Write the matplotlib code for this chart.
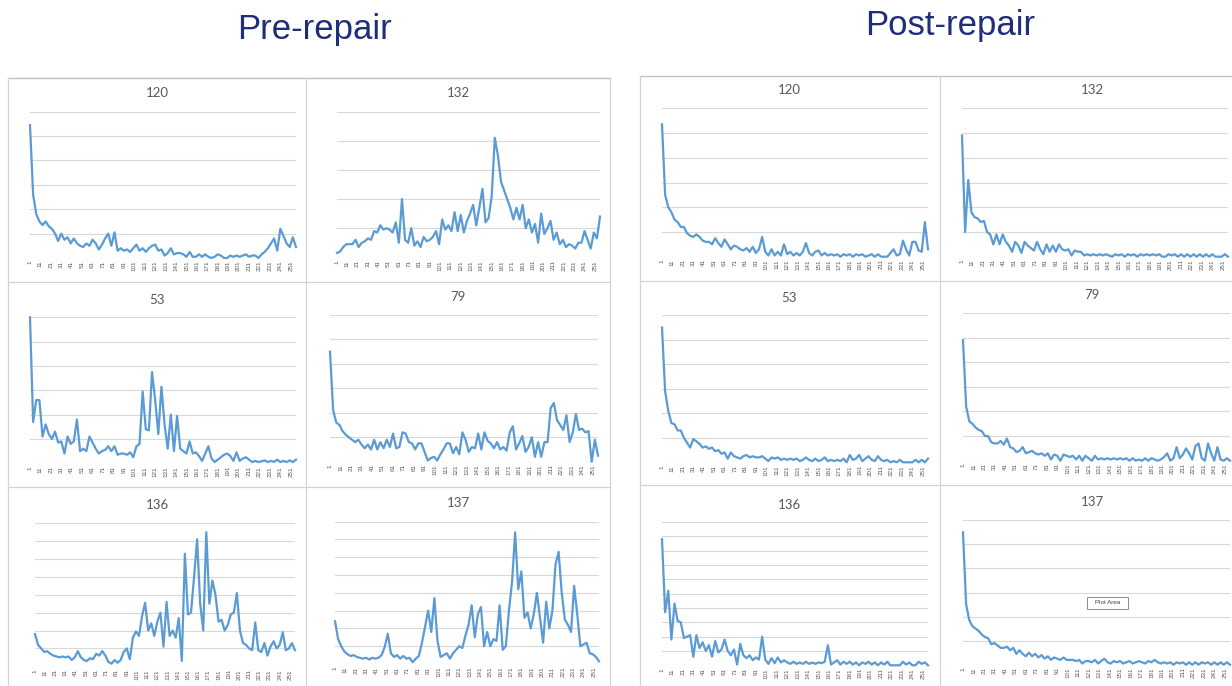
import numpy as np
import matplotlib
matplotlib.use('Agg')
import matplotlib.pyplot as plt
from matplotlib.lines import Line2D
from matplotlib.patches import Rectangle

# sample index (every third point of 1..256)
idx = np.arange(1, 257, 3)
tick_pos = list(range(1, 257, 10))

# --- pre-repair series ---
pre_120 = [5.45, 2.6, 1.8, 1.5, 1.35, 1.5, 1.3, 1.2, 1.0, 0.7,
           1.0, 0.75, 0.85, 0.6, 0.8, 0.6, 0.5, 0.45, 0.6, 0.5,
           0.75, 0.6, 0.35, 0.55, 0.8, 1.0, 0.5, 1.05, 0.3, 0.4,
           0.3, 0.35, 0.25, 0.4, 0.55, 0.3, 0.4, 0.25, 0.4, 0.5,
           0.55, 0.3, 0.35, 0.1, 0.2, 0.4, 0.15, 0.2, 0.2, 0.15,
           0.05, 0.25, 0.05, 0.05, 0.15, 0.05, 0.15, 0.05, 0.0, 0.05,
           0.15, 0.1, 0.0, 0.0, 0.1, 0.05, 0.1, 0.05, 0.1, 0.15,
           0.05, 0.1, 0.1, 0.0, 0.15, 0.25, 0.4, 0.6, 0.8, 0.3,
           1.2, 0.9, 0.6, 0.45, 0.85, 0.45]
pre_132 = [0.15, 0.2, 0.35, 0.45, 0.45, 0.45, 0.6, 0.35, 0.5, 0.55,
           0.65, 0.6, 0.9, 0.85, 1.1, 0.95, 1.0, 0.95, 0.85, 1.2,
           0.5, 2.0, 0.6, 0.5, 1.0, 0.4, 0.55, 0.35, 0.7, 0.55,
           0.6, 0.7, 0.9, 0.45, 1.3, 0.95, 1.1, 0.9, 1.55, 0.9,
           1.45, 0.85, 1.25, 1.5, 1.8, 1.1, 1.7, 2.35, 1.2, 1.35,
           2.1, 4.1, 3.5, 2.6, 2.3, 2.0, 1.7, 1.3, 1.7, 1.3,
           1.8, 1.0, 1.3, 0.85, 1.15, 0.5, 1.5, 0.8, 1.0, 1.25,
           0.6, 0.85, 0.45, 0.6, 0.35, 0.45, 0.4, 0.3, 0.5, 0.5,
           0.9, 0.6, 0.3, 0.85, 0.65, 1.4]
pre_53 = [6.0, 1.7, 2.6, 2.6, 1.1, 1.6, 1.2, 1.0, 1.3, 0.85,
          0.9, 0.4, 1.1, 0.8, 0.9, 1.8, 0.5, 0.6, 0.5, 1.1,
          0.85, 0.6, 0.4, 0.5, 0.55, 0.7, 0.5, 0.7, 0.35, 0.4,
          0.4, 0.35, 0.45, 0.25, 0.7, 0.8, 2.95, 1.4, 1.35, 3.75,
          2.6, 1.2, 3.15, 1.6, 0.6, 2.0, 0.5, 1.95, 0.6, 0.5,
          0.4, 0.9, 0.4, 0.45, 0.3, 0.1, 0.4, 0.7, 0.2, 0.05,
          0.15, 0.25, 0.35, 0.4, 0.3, 0.1, 0.45, 0.1, 0.2, 0.25,
          0.15, 0.05, 0.1, 0.05, 0.08, 0.12, 0.05, 0.1, 0.06, 0.15,
          0.05, 0.1, 0.05, 0.12, 0.05, 0.15]
pre_79 = [4.5, 2.1, 1.6, 1.5, 1.25, 1.1, 1.0, 0.9, 0.8, 0.9,
          0.7, 0.55, 0.7, 0.5, 0.9, 0.5, 0.8, 0.55, 0.9, 0.6,
          1.15, 0.55, 0.6, 1.2, 1.15, 0.8, 0.75, 0.5, 0.75, 0.75,
          0.4, 0.05, 0.15, 0.2, 0.05, 0.3, 0.5, 0.75, 0.75, 0.35,
          0.6, 0.3, 1.2, 0.9, 0.4, 0.6, 0.55, 1.15, 0.5, 1.2,
          0.85, 0.75, 0.55, 0.8, 0.5, 0.6, 0.45, 1.2, 1.45, 0.5,
          0.75, 1.05, 0.4, 0.6, 1.0, 0.2, 0.8, 0.2, 0.8, 0.8,
          2.2, 2.4, 1.7, 1.5, 1.3, 1.9, 0.8, 1.2, 1.95, 1.3,
          1.35, 1.2, 1.25, 0.0, 0.9, 0.25]
pre_136 = [1.8, 1.2, 1.0, 0.8, 0.85, 0.7, 0.6, 0.55, 0.5, 0.55,
           0.5, 0.55, 0.35, 0.5, 0.85, 0.5, 0.35, 0.3, 0.45, 0.4,
           0.7, 0.6, 0.85, 0.6, 0.25, 0.15, 0.35, 0.2, 0.35, 0.8,
           1.0, 0.4, 1.6, 1.95, 1.7, 2.8, 3.55, 2.0, 2.4, 1.7,
           2.5, 3.0, 1.1, 3.6, 1.7, 2.0, 1.6, 2.7, 0.3, 6.3,
           2.9, 3.0, 5.0, 7.1, 3.5, 2.0, 7.5, 3.5, 4.8, 4.0,
           2.5, 2.6, 2.0, 2.3, 2.9, 3.0, 4.1, 2.0, 1.3, 1.2,
           1.0, 0.9, 2.45, 0.9, 0.8, 1.3, 0.6, 1.1, 1.4, 1.0,
           1.2, 1.9, 0.9, 1.0, 1.3, 0.9]
pre_137 = [2.4, 1.4, 1.0, 0.7, 0.55, 0.45, 0.5, 0.4, 0.35, 0.3,
           0.35, 0.25, 0.35, 0.3, 0.35, 0.5, 0.95, 1.7, 0.6, 0.4,
           0.5, 0.3, 0.45, 0.3, 0.35, 0.1, 0.3, 0.45, 1.2, 2.1,
           3.0, 1.8, 3.7, 1.3, 0.4, 0.5, 0.6, 0.3, 0.6, 0.8,
           1.0, 0.9, 1.6, 2.2, 3.3, 1.5, 2.8, 3.2, 1.0, 1.8,
           1.0, 1.4, 1.3, 3.3, 0.8, 1.0, 3.0, 4.6, 7.4, 4.2,
           5.2, 2.6, 2.9, 2.0, 2.8, 4.0, 2.6, 1.2, 3.5, 2.0,
           3.0, 5.6, 6.3, 4.0, 2.5, 2.2, 1.8, 4.4, 2.8, 1.0,
           1.1, 1.2, 0.6, 0.55, 0.4, 0.15]

# --- post-repair series ---
post_120 = [5.35, 2.5, 2.0, 1.8, 1.5, 1.4, 1.2, 1.2, 0.95, 0.85,
            0.8, 0.9, 0.8, 0.65, 0.6, 0.6, 0.5, 0.75, 0.55, 0.4,
            0.7, 0.5, 0.3, 0.45, 0.4, 0.3, 0.25, 0.35, 0.2, 0.4,
            0.15, 0.3, 0.8, 0.2, 0.05, 0.3, 0.05, 0.2, 0.05, 0.5,
            0.1, 0.2, 0.05, 0.15, 0.05, 0.2, 0.55, 0.15, 0.05, 0.2,
            0.25, 0.05, 0.15, 0.05, 0.1, 0.05, 0.1, 0.0, 0.1, 0.05,
            0.1, 0.0, 0.1, 0.05, 0.1, 0.0, 0.05, 0.1, 0.0, 0.1,
            0.0, 0.0, 0.0, 0.15, 0.3, 0.05, 0.1, 0.65, 0.3, 0.05,
            0.6, 0.6, 0.25, 0.2, 1.4, 0.3]
post_132 = [4.9, 1.0, 3.1, 1.8, 1.6, 1.55, 1.4, 1.45, 1.0, 0.9,
            0.5, 0.9, 0.5, 0.9, 0.6, 0.45, 0.2, 0.6, 0.45, 0.15,
            0.6, 0.45, 0.35, 0.25, 0.6, 0.3, 0.1, 0.5, 0.2, 0.45,
            0.2, 0.5, 0.3, 0.25, 0.3, 0.05, 0.25, 0.2, 0.2, 0.05,
            0.1, 0.05, 0.1, 0.05, 0.1, 0.05, 0.1, 0.05, 0.0, 0.1,
            0.05, 0.1, 0.0, 0.1, 0.05, 0.1, 0.0, 0.1, 0.05, 0.1,
            0.05, 0.1, 0.05, 0.1, 0.0, 0.0, 0.1, 0.05, 0.1, 0.0,
            0.1, 0.0, 0.1, 0.0, 0.1, 0.0, 0.1, 0.0, 0.1, 0.0,
            0.1, 0.0, 0.0, 0.0, 0.1, 0.0]
post_53 = [5.5, 2.9, 2.1, 1.6, 1.55, 1.3, 1.3, 1.0, 0.8, 0.6,
           0.95, 0.85, 0.75, 0.6, 0.65, 0.55, 0.6, 0.45, 0.5, 0.35,
           0.4, 0.15, 0.4, 0.25, 0.2, 0.15, 0.25, 0.3, 0.2, 0.25,
           0.2, 0.2, 0.25, 0.15, 0.05, 0.2, 0.15, 0.2, 0.1, 0.15,
           0.1, 0.15, 0.1, 0.15, 0.05, 0.1, 0.2, 0.1, 0.05, 0.15,
           0.05, 0.1, 0.2, 0.05, 0.1, 0.05, 0.1, 0.05, 0.15, 0.0,
           0.3, 0.1, 0.15, 0.3, 0.05, 0.15, 0.25, 0.1, 0.05, 0.25,
           0.1, 0.05, 0.1, 0.0, 0.05, 0.0, 0.1, 0.0, 0.0, 0.0,
           0.0, 0.1, 0.0, 0.1, 0.0, 0.15]
post_79 = [4.9, 2.2, 1.6, 1.5, 1.35, 1.25, 1.2, 1.0, 1.0, 0.75,
           0.7, 0.7, 0.8, 0.65, 0.9, 0.55, 0.5, 0.35, 0.4, 0.55,
           0.3, 0.35, 0.4, 0.3, 0.25, 0.3, 0.2, 0.3, 0.05, 0.25,
           0.2, 0.0, 0.25, 0.2, 0.15, 0.2, 0.05, 0.2, 0.0, 0.2,
           0.1, 0.0, 0.2, 0.05, 0.1, 0.05, 0.1, 0.05, 0.1, 0.05,
           0.1, 0.05, 0.1, 0.0, 0.1, 0.0, 0.05, 0.0, 0.1, 0.0,
           0.1, 0.05, 0.0, 0.05, 0.15, 0.3, 0.0, 0.1, 0.55, 0.1,
           0.25, 0.5, 0.3, 0.05, 0.6, 0.7, 0.1, 0.0, 0.7, 0.3,
           0.0, 0.55, 0.05, 0.0, 0.1, 0.0]
post_136 = [8.8, 3.7, 5.2, 1.8, 4.3, 3.1, 3.0, 1.9, 2.0, 2.1,
            0.6, 2.1, 1.2, 1.6, 1.0, 1.4, 0.6, 1.7, 0.9, 1.1,
            1.8, 1.0, 0.7, 1.1, 0.05, 1.5, 0.7, 0.5, 0.7, 0.35,
            0.55, 0.4, 2.0, 0.4, 0.1, 0.5, 0.15, 0.55, 0.2, 0.35,
            0.2, 0.1, 0.25, 0.1, 0.2, 0.1, 0.25, 0.1, 0.2, 0.1,
            0.2, 0.15, 0.25, 1.4, 0.05, 0.2, 0.35, 0.05, 0.25, 0.1,
            0.25, 0.05, 0.2, 0.0, 0.2, 0.1, 0.25, 0.05, 0.2, 0.0,
            0.2, 0.05, 0.25, 0.0, 0.0, 0.0, 0.0, 0.25, 0.05, 0.2,
            0.0, 0.0, 0.25, 0.1, 0.2, 0.0]
post_137 = [5.5, 2.5, 1.85, 1.6, 1.5, 1.4, 1.25, 1.15, 1.1, 0.85,
            0.9, 0.8, 0.7, 0.7, 0.75, 0.6, 0.7, 0.45, 0.6, 0.45,
            0.35, 0.5, 0.35, 0.45, 0.3, 0.4, 0.25, 0.35, 0.2, 0.3,
            0.25, 0.2, 0.3, 0.2, 0.2, 0.2, 0.15, 0.2, 0.05, 0.15,
            0.15, 0.1, 0.2, 0.05, 0.15, 0.25, 0.1, 0.05, 0.15, 0.1,
            0.15, 0.05, 0.1, 0.15, 0.05, 0.1, 0.15, 0.1, 0.05, 0.15,
            0.1, 0.2, 0.1, 0.05, 0.1, 0.05, 0.1, 0.0, 0.1, 0.05,
            0.1, 0.0, 0.1, 0.0, 0.1, 0.0, 0.1, 0.05, 0.1, 0.0,
            0.1, 0.0, 0.1, 0.0, 0.1, 0.0]

W, H = 1232, 686
fig = plt.figure(figsize=(W / 100, H / 100), dpi=100)
fig.patch.set_facecolor('white')

LINE = '#5B9BD5'
GRID = '#d9d9d9'
TXT = '#595959'
NAVY = '#1f2d7a'


def px_axes(x0, x1, ytop, ybot):
    return fig.add_axes([x0 / W, 1 - ybot / H, (x1 - x0) / W, (ybot - ytop) / H])


def fig_line(x0, y0, x1, y1, color='#d4d4d4', lw=0.9):
    fig.add_artist(Line2D([x0 / W, x1 / W], [1 - y0 / H, 1 - y1 / H],
                          transform=fig.transFigure, color=color, lw=lw))


def chart(title, values, n_grid, box, title_xy):
    ax = px_axes(*box)
    ax.plot(idx, values, color=LINE, lw=1.6, solid_joinstyle='round', clip_on=False, zorder=3)
    ax.set_xlim(1, 256)
    ax.set_ylim(0, n_grid)
    ax.set_yticks(range(n_grid + 1))
    ax.yaxis.grid(True, color=GRID, lw=0.8)
    ax.tick_params(axis='y', left=False, labelleft=False)
    ax.set_xticks(tick_pos)
    ax.set_xticklabels([str(t) for t in tick_pos], rotation=90, fontsize=4.5,
                       color=TXT, family='Liberation Sans')
    ax.tick_params(axis='x', length=0, pad=2)
    for s in ax.spines.values():
        s.set_visible(False)
    ax.set_facecolor('none')
    fig.text(title_xy[0] / W, 1 - title_xy[1] / H, title, ha='center', va='center',
             fontsize=9.5, color=TXT, family='Lato')
    return ax


# panel frames
fig_line(8, 78, 610, 78, color='#c0c0c0', lw=1.0)
fig_line(8, 78, 8, 686)
fig_line(306, 78, 306, 686)
fig_line(610, 78, 610, 686)
fig_line(8, 282, 610, 282)
fig_line(8, 487, 610, 487)

fig_line(640, 76, 1232, 76, color='#c0c0c0', lw=1.0)
fig_line(640, 76, 640, 686)
fig_line(940, 76, 940, 686)
fig_line(640, 281, 1232, 281)
fig_line(640, 485, 1232, 485)

# pre-repair grid of charts
chart('120', pre_120, 6, (30, 296, 111.7, 258), (157, 93))
chart('132', pre_132, 5, (337, 600, 111.7, 257.3), (458, 93))
chart('53', pre_53, 6, (30, 296, 317.3, 463.3), (157, 300))
chart('79', pre_79, 6, (330, 598, 315, 461.7), (458, 297))
chart('136', pre_136, 8, (35, 295, 523.3, 666.3), (157, 505))
chart('137', pre_137, 8, (335, 599, 521.7, 664), (458, 503))

# post-repair grid of charts
chart('120', post_120, 6, (662, 928, 108.3, 256.7), (789, 90))
chart('132', post_132, 6, (962, 1228, 108.3, 256.7), (1092, 90))
chart('53', post_53, 6, (662, 928, 315.3, 462.3), (789, 298))
chart('79', post_79, 6, (963, 1230, 313, 460.7), (1092, 295))
chart('136', post_136, 10, (662, 928, 522, 665.3), (789, 505))
chart('137', post_137, 6, (963, 1230, 520.3, 664.7), (1092, 502))

# hover tag inside the last chart
fig.add_artist(Rectangle((1087 / W, 1 - 609 / H), 41 / W, 12 / H, transform=fig.transFigure,
                         facecolor='white', edgecolor='#8c8c8c', lw=0.7, zorder=10))
fig.text(1107.5 / W, 1 - 603 / H, 'Plot Area', ha='center', va='center', fontsize=4.5,
         color='#404040', family='Liberation Sans', zorder=11)

# panel headings
fig.text(315 / W, 1 - 29 / H, 'Pre-repair', ha='center', va='center', fontsize=25,
         color=NAVY, family='Liberation Sans')
fig.text(950 / W, 1 - 25 / H, 'Post-repair', ha='center', va='center', fontsize=25,
         color=NAVY, family='Liberation Sans')

fig.savefig('out.png', dpi=100, facecolor='white')
